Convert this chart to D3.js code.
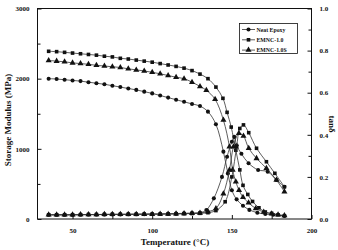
<!DOCTYPE html>
<html><head><meta charset="utf-8">
<script src="https://cdn.jsdelivr.net/npm/d3@7"></script>
<style>body{margin:0;background:#fff}svg{display:block}text{font-family:"Liberation Serif","DejaVu Serif",serif;font-weight:bold;fill:#111}</style>
</head><body>
<script>
// ---- data ----
const seriesNames = ["Neat Epoxy", "EMNC-1.0", "EMNC-1.0S"];
const xTicks = [50, 100, 150, 200];
const yLeftTicks = [0, 1000, 2000, 3000];
const yRightTicks = [0.0, 0.2, 0.4, 0.6, 0.8, 1.0];

// storage modulus (MPa)
const tempE_neat = [35,40,45,50,55,60,65,70,75,80,85,90,95,100,105,110,115,120,125,130,135,140,144.7,147.5,150,153,157,161,166,171,176,183];
const E_neat     = [2000,1995,1985,1975,1965,1950,1935,1920,1900,1880,1860,1840,1815,1790,1760,1730,1700,1670,1640,1610,1530,1350,960,650,410,280,190,130,90,70,60,45];
const tempE_10   = [35,40,45,50,55,60,65,70,75,80,85,90,95,100,105,110,115,120,125,130,135,140,144.4,147,149.6,152.5,155,157,160,163,167,171,175,179,183];
const E_10       = [2390,2385,2375,2365,2355,2345,2335,2320,2310,2290,2280,2265,2250,2235,2215,2195,2175,2150,2115,2065,2000,1880,1720,1520,1310,980,700,480,350,250,160,100,80,60,45];
const tempE_10S  = [35,40,45,50,55,60,65,70,75,80,85,90,95,100,105,110,115,120,125,130,134,139.5,144.7,148.5,150.5,152.5,154.5,157,160.5,165,170,175,179,183];
const E_10S      = [2260,2250,2240,2225,2215,2205,2190,2180,2170,2160,2140,2125,2110,2090,2070,2045,2020,2000,1950,1890,1835,1705,1410,1030,700,530,410,310,230,150,100,75,60,50];

// tan delta
const tempT_neat = [35,40,45,50,55,60,65,70,75,80,85,90,95,100,105,110,115,120,125,130,134,138.7,143.8,147,150,151.5,153,156,160.5,166.5,172.5,178,183];
const T_neat     = [0.02,0.02,0.02,0.02,0.021,0.021,0.021,0.022,0.022,0.022,0.023,0.023,0.023,0.024,0.024,0.025,0.026,0.027,0.028,0.03,0.043,0.098,0.2,0.296,0.367,0.39,0.35,0.31,0.265,0.233,0.225,0.185,0.153];
const tempT_10   = [35,40,45,50,55,60,65,70,75,80,85,90,95,100,105,110,115,120,125,130,135,140,145.8,150,153,155,157.3,160.6,165.5,171.7,177,183];
const T_10       = [0.02,0.02,0.02,0.02,0.02,0.021,0.021,0.021,0.022,0.022,0.022,0.022,0.023,0.023,0.023,0.024,0.024,0.025,0.026,0.027,0.03,0.04,0.082,0.2,0.343,0.43,0.447,0.41,0.336,0.272,0.217,0.153];
const tempT_10S  = [35,40,45,50,55,60,65,70,75,80,85,90,95,100,105,110,115,120,125,130,135,140,144.7,148.5,151,154.4,157.3,160.6,165.5,171.7,178,183];
const T_10S      = [0.02,0.02,0.02,0.02,0.021,0.021,0.021,0.022,0.022,0.022,0.022,0.023,0.023,0.023,0.024,0.024,0.025,0.026,0.027,0.029,0.035,0.05,0.12,0.233,0.343,0.407,0.394,0.336,0.288,0.241,0.185,0.13];

const symbols = [d3.symbolCircle, d3.symbolSquare, d3.symbolTriangle];
const symSizes = [13, 13, 16];

// ---- chart ----
const W = 338, H = 250;
const svg = d3.select("body").append("svg").attr("width", W).attr("height", H);
const x = d3.scaleLinear().domain([28, 200]).range([37.5, 311.5]);
const yL = d3.scaleLinear().domain([0, 3000]).range([219, 8.5]);
const yR = d3.scaleLinear().domain([0, 1]).range([219, 8.5]);

const E = [[tempE_neat, E_neat], [tempE_10, E_10], [tempE_10S, E_10S]];
const T = [[tempT_neat, T_neat], [tempT_10, T_10], [tempT_10S, T_10S]];

function drawSeries(arr, ys, i) {
  const pts = arr[0].map((t, k) => [x(t), ys(arr[1][k])]);
  svg.append("path").attr("d", d3.line().curve(d3.curveCatmullRom.alpha(0.5))(pts))
    .attr("fill", "none").attr("stroke", "#333").attr("stroke-width", 0.8);
  svg.append("g").selectAll("path").data(pts).join("path")
    .attr("transform", d => `translate(${d[0]},${d[1]})`)
    .attr("d", d3.symbol().type(symbols[i]).size(symSizes[i]))
    .attr("fill", "#111");
}
E.forEach((s, i) => drawSeries(s, yL, i));
T.forEach((s, i) => drawSeries(s, yR, i));

// frame
svg.append("rect").attr("x", 37.5).attr("y", 8.5).attr("width", 274).attr("height", 210.5)
  .attr("fill", "none").attr("stroke", "#111").attr("stroke-width", 1);

// axes
svg.append("g").attr("transform", "translate(0,219)")
  .call(d3.axisBottom(x).tickValues(xTicks).tickSize(-4).tickPadding(9).tickFormat(d3.format("d")));
svg.append("g").attr("transform", "translate(0,219)")
  .call(d3.axisBottom(x).tickValues([75,125,175]).tickSize(-3).tickFormat(""));
svg.append("g").attr("transform", "translate(37.5,0)")
  .call(d3.axisLeft(yL).tickValues(yLeftTicks).tickSize(-4).tickPadding(8).tickFormat(d3.format("d")));
svg.append("g").attr("transform", "translate(37.5,0)")
  .call(d3.axisLeft(yL).tickValues([500,1500,2500]).tickSize(-3).tickFormat(""));
svg.append("g").attr("transform", "translate(311.5,0)")
  .call(d3.axisRight(yR).tickValues(yRightTicks).tickSize(-4).tickPadding(8).tickFormat(d3.format(".1f")));
svg.append("g").attr("transform", "translate(311.5,0)")
  .call(d3.axisRight(yR).tickValues([0.1,0.3,0.5,0.7,0.9]).tickSize(-3).tickFormat(""));
svg.selectAll(".domain").remove();
svg.selectAll(".tick line").attr("stroke", "#111");
svg.selectAll(".tick text").style("font-size", "7px").style("font-family", '"Liberation Serif",serif').style("font-weight", "bold");

// axis titles
svg.append("text").attr("x", 175).attr("y", 245).attr("text-anchor", "middle")
  .style("font-size", "9px").text("Temperature (°C)");
svg.append("text").attr("transform", "translate(11,120) rotate(-90)").attr("text-anchor", "middle")
  .style("font-size", "9px").text("Storage Modulus (MPa)");
svg.append("text").attr("transform", "translate(329,124) rotate(90)").attr("text-anchor", "middle")
  .style("font-size", "9px").text("tanδ");

// legend
const lg = svg.append("g");
lg.append("rect").attr("x", 239.5).attr("y", 23.5).attr("width", 58).attr("height", 30)
  .attr("fill", "#fff").attr("stroke", "#111").attr("stroke-width", 0.8);
seriesNames.forEach((n, i) => {
  const yy = 29.5 + i * 10.3;
  lg.append("line").attr("x1", 242).attr("x2", 255).attr("y1", yy).attr("y2", yy).attr("stroke", "#333").attr("stroke-width", 0.8);
  lg.append("path").attr("transform", `translate(248.5,${yy})`).attr("d", d3.symbol().type(symbols[i]).size(symSizes[i]))
    .attr("fill", "#111");
  lg.append("text").attr("x", 256.5).attr("y", yy + 2.2).style("font-size", "5.8px").text(n);
});
</script>
</body></html>
